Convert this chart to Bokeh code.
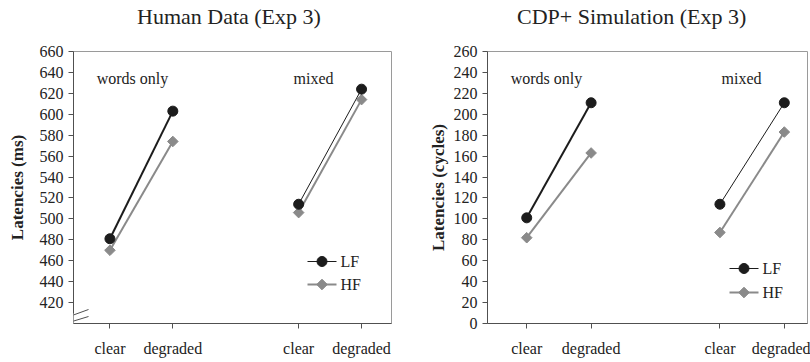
from bokeh.plotting import figure
from bokeh.layouts import row, column
from bokeh.models import FixedTicker, Label, Arrow, Div
from bokeh.embed import file_html
from bokeh.resources import INLINE

# ---------------- data ----------------
conditions = ["clear", "degraded"]
groups = ["words only", "mixed"]
series = ["LF", "HF"]

human_lf = [481, 603, 514, 624]   # words clear, words degraded, mixed clear, mixed degraded
human_hf = [470, 574, 506, 614]
sim_lf = [101, 211, 114, 211]
sim_hf = [82, 163, 87, 183]

human_ticks = list(range(420, 661, 20))
sim_ticks = list(range(0, 261, 20))

titles = ["Human Data (Exp 3)", "CDP+ Simulation (Exp 3)"]
ylabels = ["Latencies (ms)", "Latencies (cycles)"]

# ---------------- style ----------------
FONT = "Liberation Serif"
BLACK = "#1c1c1c"
GRAY = "#8a8a8a"
AXIS = "#505050"
FRAME = "#9a9a9a"
TEXT = "#222222"
TITLE_H = 34

xpos = [1 + j + 3 * i for i in range(len(groups)) for j in range(len(conditions))]
xlabels = {xpos[i * 2 + j]: conditions[j] for i in range(2) for j in range(2)}


def make_title(text, width, left_pad):
    return Div(text=text, width=width, height=TITLE_H,
               styles={"font-family": FONT, "font-size": "22px", "color": TEXT,
                       "line-height": f"{TITLE_H}px", "padding-left": f"{left_pad}px",
                       "margin": "0", "white-space": "nowrap", "box-sizing": "border-box"})


def make_panel(ylabel, lf, hf, yticks, x_range, y_range, width, borders,
               frame_px, group_px, legend_px, label_standoff,
               axis_bounds=None, breaks=False):
    bl, br, bt, bb = borders
    p = figure(width=width, height=362 - TITLE_H, x_range=x_range, y_range=y_range,
               min_border_left=bl, min_border_right=br, min_border_top=bt - TITLE_H,
               min_border_bottom=bb, title=None,
               toolbar_location=None, output_backend="svg")
    p.grid.visible = False
    p.background_fill_color = "white"
    p.border_fill_color = "white"
    p.outline_line_color = FRAME
    p.outline_line_width = 1

    fl, fr, ft, fb = frame_px

    def X(px):
        return x_range[0] + (px - fl) / (fr - fl) * (x_range[1] - x_range[0])

    def Y(py):
        return y_range[1] - (py - ft) / (fb - ft) * (y_range[1] - y_range[0])

    # axes
    for ax in (p.xaxis[0], p.yaxis[0]):
        ax.axis_line_color = AXIS
        ax.major_tick_line_color = AXIS
        ax.minor_tick_line_color = None
        ax.major_tick_in = 0
        ax.major_tick_out = 5
        ax.major_label_text_font = FONT
        ax.major_label_text_font_size = "16px"
        ax.major_label_text_color = TEXT
    p.xaxis.ticker = FixedTicker(ticks=xpos)
    p.xaxis.major_label_overrides = xlabels
    p.xaxis.major_label_standoff = 11
    p.yaxis.ticker = FixedTicker(ticks=yticks)
    p.yaxis.major_label_standoff = 5
    p.yaxis.axis_label = ylabel
    p.yaxis.axis_label_text_font = FONT
    p.yaxis.axis_label_text_font_style = "bold"
    p.yaxis.axis_label_text_font_size = "17px"
    p.yaxis.axis_label_text_color = TEXT
    p.yaxis.axis_label_standoff = label_standoff
    if axis_bounds is not None:
        p.yaxis.bounds = axis_bounds

    # lines
    for gi in range(len(groups)):
        xs = xpos[gi * 2: gi * 2 + 2]
        p.line(xs, hf[gi * 2: gi * 2 + 2], line_color=GRAY, line_width=2)
    for gi in range(len(groups)):
        xs = xpos[gi * 2: gi * 2 + 2]
        p.line(xs, lf[gi * 2: gi * 2 + 2], line_color=BLACK, line_width=2 if gi == 0 else 1)
    p.scatter(xpos, hf, marker="square", size=7.5, angle=0.785398,
              fill_color=GRAY, line_color=GRAY)
    p.scatter(xpos, lf, marker="circle", size=10, fill_color=BLACK, line_color=BLACK)

    # group labels
    for gi, g in enumerate(groups):
        p.add_layout(Label(x=X(group_px[gi][0]), y=Y(group_px[gi][1]), text=g,
                           text_font=FONT, text_font_size="16px", text_color=TEXT,
                           text_align="center", text_baseline="middle"))

    # legend (drawn by hand so the diamond keeps its rotation)
    lx0, lx1, ly0, ly1 = legend_px
    lxm = (lx0 + lx1) / 2
    specs = [(series[0], ly0, BLACK, 1, "circle", 10, 0.0),
             (series[1], ly1, GRAY, 2, "square", 7.5, 0.785398)]
    for name, ly, col, lw, mk, sz, ang in specs:
        p.line([X(lx0), X(lx1)], [Y(ly), Y(ly)], line_color=col, line_width=lw)
        p.scatter([X(lxm)], [Y(ly)], marker=mk, size=sz, angle=ang, fill_color=col, line_color=col)
        p.add_layout(Label(x=X(lx1 + 4), y=Y(ly), text=name, text_font=FONT,
                           text_font_size="16px", text_color=TEXT,
                           text_align="left", text_baseline="middle"))

    if breaks:
        for (x0, y0, x1, y1) in [(65, 323, 88, 316), (66, 317, 88, 309)]:
            p.add_layout(Arrow(end=None, x_start=X(x0), y_start=Y(y0), x_end=X(x1), y_end=Y(y1),
                               line_color=AXIS, line_width=1))
    return p


p1 = make_panel(ylabels[0], human_lf, human_hf, human_ticks,
                x_range=(0.421, 5.476), y_range=(400, 660), width=400,
                borders=(73, 9, 51, 39), frame_px=(73, 391, 51, 323),
                group_px=[(132, 78), (313, 78)],
                legend_px=(307, 336, 261, 284), label_standoff=10,
                axis_bounds=(410, 660), breaks=True)

p2 = make_panel(ylabels[1], sim_lf, sim_hf, sim_ticks,
                x_range=(0.391, 5.360), y_range=(0, 260), width=410,
                borders=(87, 3, 51, 39), frame_px=(487, 807, 51, 323),
                group_px=[(546, 78), (741, 78)],
                legend_px=(729, 758, 268, 292), label_standoff=3)

t1 = make_title(titles[0], 400, 137)
t2 = make_title(titles[1], 410, 117)

layout = column(row(t1, t2), row(p1, p2))
open("out.html", "w").write(file_html(layout, INLINE))
